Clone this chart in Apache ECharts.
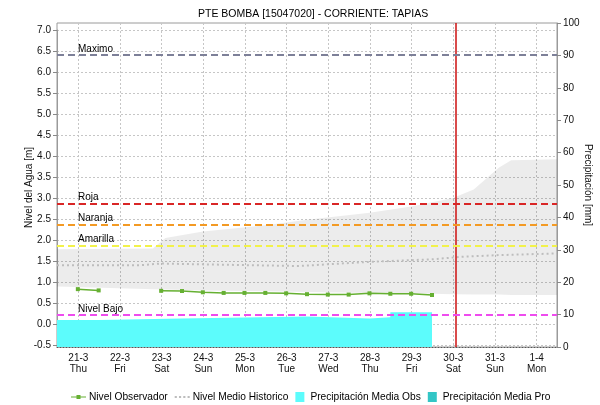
<!DOCTYPE html>
<html>
<head>
<meta charset="utf-8">
<title>PTE BOMBA [15047020] - CORRIENTE: TAPIAS</title>
<script src="https://cdn.jsdelivr.net/npm/echarts@6/dist/echarts.min.js"></script>
<style>
  html, body { margin: 0; padding: 0; background: #fff; }
  #chart { width: 600px; height: 405px; }
</style>
</head>
<body>
<div id="chart"></div>
<script>
// eje de fechas: 0 = 21-3 00:00, unidad = dias
const dayLabels = ['21-3', '22-3', '23-3', '24-3', '25-3', '26-3', '27-3', '28-3', '29-3', '30-3', '31-3', '1-4'];
const weekdayLabels = ['Thu', 'Fri', 'Sat', 'Sun', 'Mon', 'Tue', 'Wed', 'Thu', 'Fri', 'Sat', 'Sun', 'Mon'];

// nivel observado [m], cada 12 h
const obsDays = [0, 0.5, 1, 1.5, 2, 2.5, 3, 3.5, 4, 4.5, 5, 5.5, 6, 6.5, 7, 7.5, 8, 8.5];
const obsLevel = [0.83, 0.80, null, null, 0.79, 0.785, 0.755, 0.74, 0.74, 0.74, 0.73, 0.71, 0.70, 0.70, 0.73, 0.72, 0.72, 0.69];

// banda historica (min / max) [m]
const histDays = [-0.5, 1.8, 2.1, 3.0, 4.5, 5.5, 7.0, 8.0, 9.0, 9.5, 10.1, 10.4, 11.5];
const histLow = [0.89, 0.83, 0.82, 0.80, 0.78, 0.76, 0.74, 0.73, 0.71, 0.70, 0.70, 0.69, 0.69];
const histHigh = [1.78, 1.80, 2.05, 2.20, 2.35, 2.48, 2.65, 2.80, 3.00, 3.20, 3.72, 3.90, 3.92];

// nivel medio historico [m]
const meanDays = [-0.5, 1.5, 2.0, 3.0, 5.3, 7.0, 8.5, 9.2, 10.1, 11.5];
const meanLevel = [1.40, 1.40, 1.44, 1.42, 1.38, 1.48, 1.54, 1.60, 1.64, 1.68];

// precipitacion media observada [mm] (escalonada)
const precipDays = [-0.5, 0.5, 2.5, 5.5, 7.0, 7.5, 8.5];
const precipObs = [8.3, 8.8, 9.4, 8.8, 9.2, 10.7, 0];

// precipitacion media pronosticada [mm] (sin datos)
const precipProDays = [];
const precipPro = [];

// niveles de alerta [m]
const thresholdNames = ['Maximo', 'Roja', 'Naranja', 'Amarilla', 'Nivel Bajo'];
const thresholdValues = [6.4, 2.87, 2.37, 1.87, 0.22];
const thresholdColors = ['#7d8098', '#d92626', '#f39a24', '#f2f24a', '#ee4cee'];

// hora actual (30-3 ~01:30)
const nowDay = 9.06;

const zip = (xs, ys) => xs.map((x, i) => [x, ys[i]]);

const chart = echarts.init(document.getElementById('chart'));
const font = 'Liberation Sans, Arial, sans-serif';
const gridLine = { show: true, lineStyle: { color: '#c6c6c6', type: [2, 2], width: 1 } };

chart.setOption({
  animation: false,
  textStyle: { fontFamily: font },
  title: {
    text: 'PTE BOMBA [15047020] - CORRIENTE: TAPIAS',
    left: 193,
    top: 4,
    textStyle: { fontSize: 10.5, fontWeight: 'normal', color: '#000', fontFamily: font }
  },
  legend: {
    left: 66,
    top: 387,
    itemWidth: 15,
    itemHeight: 10,
    itemGap: 7,
    textStyle: { fontSize: 10.2, color: '#000', fontFamily: font, padding: [0, 0, 0, -2] },
    data: [
      { name: 'Nivel Observador', icon: 'path://M0 4.4H15V5.6H0Z M5.5 3H9.5V7H5.5Z' },
      { name: 'Nivel Medio Historico', icon: 'path://M0 4H2V6H0Z M4 4H6V6H4Z M8 4H10V6H8Z M12 4H14V6H12Z' },
      { name: 'Precipitación Media Obs', icon: 'path://M0 0H9V10H0Z' },
      { name: 'Precipitación Media Pro', icon: 'path://M0 0H9V10H0Z' }
    ]
  },
  grid: [
    // 0: etiquetas de fechas y lineas verticales
    { left: 78.33, right: 63.33, top: 23, bottom: 58, outerBoundsMode: 'none' },
    // 1: eje izquierdo de nivel
    { left: 57, right: 43, top: 30, bottom: 60, outerBoundsMode: 'none' },
    // 2: eje derecho de precipitacion y marco
    { left: 57, right: 43, top: 23, bottom: 58, outerBoundsMode: 'none', show: true, borderColor: '#9a9a9a', borderWidth: 1, backgroundColor: 'transparent' }
  ],
  xAxis: [
    {
      gridIndex: 0, type: 'value', min: 0, max: 11, interval: 1,
      axisLine: { show: false, onZero: false }, axisTick: { show: false },
      axisLabel: {
        formatter: v => dayLabels[v] + '\n' + weekdayLabels[v],
        fontSize: 10, lineHeight: 11, margin: 6, color: '#111'
      },
      splitLine: gridLine
    },
    { gridIndex: 1, type: 'value', min: -0.5, max: 11.5, show: false },
    {
      gridIndex: 2, type: 'value', min: -0.5, max: 11.5,
      axisLine: { show: true, onZero: false, lineStyle: { color: '#555', type: [1, 2], width: 1 } },
      axisTick: { show: false }, axisLabel: { show: false }, splitLine: { show: false }
    }
  ],
  yAxis: [
    { gridIndex: 0, type: 'value', min: 0, max: 1, show: false },
    {
      gridIndex: 1, type: 'value', min: -0.5, max: 7, interval: 0.5, position: 'left',
      name: 'Nivel del Agua [m]', nameLocation: 'middle', nameGap: 23, nameRotate: 90,
      nameMoveOverlap: false,
      nameTextStyle: { fontSize: 10, color: '#111' },
      axisLine: { show: true, onZero: false, lineStyle: { color: '#9a9a9a' } },
      axisTick: { show: true, length: 4, lineStyle: { color: '#888' } },
      axisLabel: { formatter: v => v.toFixed(1), fontSize: 10, margin: 6, color: '#111' },
      splitLine: gridLine
    },
    {
      gridIndex: 2, type: 'value', min: 0, max: 100, interval: 10, position: 'right',
      name: 'Precipitación [mm]', nameLocation: 'middle', nameGap: 26, nameRotate: -90,
      nameMoveOverlap: false,
      nameTextStyle: { fontSize: 10, color: '#111' },
      axisLine: { show: true, onZero: false, lineStyle: { color: '#9a9a9a' } },
      axisTick: { show: true, length: 4, lineStyle: { color: '#888' } },
      axisLabel: { fontSize: 10, margin: 6, color: '#111' },
      splitLine: { show: false }
    }
  ],
  series: [
    {
      // banda historica min-max
      name: 'hist-range', type: 'custom', xAxisIndex: 1, yAxisIndex: 1, silent: true, z: 1,
      data: [[histDays[0], histLow[0]]],
      renderItem: (params, api) => {
        const upper = histDays.map((d, i) => api.coord([d, histHigh[i]]));
        const lower = histDays.map((d, i) => api.coord([d, histLow[i]])).reverse();
        return {
          type: 'polygon',
          shape: { points: upper.concat(lower) },
          style: { fill: 'rgba(0,0,0,0.075)' }
        };
      }
    },
    {
      name: 'Precipitación Media Obs', type: 'line', xAxisIndex: 2, yAxisIndex: 2,
      data: zip(precipDays, precipObs), step: 'end', symbol: 'none',
      color: '#5cfcfc', lineStyle: { width: 0 }, areaStyle: { color: '#5cfcfc', opacity: 1 }, z: 2,
      markLine: {
        silent: true, symbol: 'none', label: { show: false },
        lineStyle: { color: '#cc1111', type: 'solid', width: 1.5 },
        data: [{ xAxis: nowDay }]
      }
    },
    {
      name: 'Precipitación Media Pro', type: 'line', xAxisIndex: 2, yAxisIndex: 2,
      data: zip(precipProDays, precipPro), step: 'end', symbol: 'none',
      color: '#33c6c6', lineStyle: { width: 0 }, areaStyle: { color: '#33c6c6', opacity: 1 }, z: 2
    },
    {
      name: 'Nivel Medio Historico', type: 'line', xAxisIndex: 1, yAxisIndex: 1,
      data: zip(meanDays, meanLevel), symbol: 'none', color: '#bdbdbd',
      lineStyle: { color: '#bdbdbd', type: [2, 3], width: 2 }, z: 3
    },
    {
      name: 'umbrales', type: 'line', xAxisIndex: 1, yAxisIndex: 1, data: [], z: 4,
      markLine: {
        silent: true, symbol: 'none',
        data: thresholdNames.map((n, i) => ({
          name: n, yAxis: thresholdValues[i],
          lineStyle: { color: thresholdColors[i], type: [7, 4], width: 2 }
        })),
        label: {
          show: true, position: 'insideStartTop', formatter: '{b}',
          distance: [21, 1], fontSize: 10, color: '#000', fontFamily: font
        }
      }
    },
    {
      name: 'Nivel Observador', type: 'line', xAxisIndex: 1, yAxisIndex: 1,
      data: zip(obsDays, obsLevel), connectNulls: false,
      symbol: 'rect', symbolSize: 4, color: '#66b032',
      lineStyle: { color: '#66b032', width: 1.5 }, z: 5
    }
  ]
});
</script>
</body>
</html>
